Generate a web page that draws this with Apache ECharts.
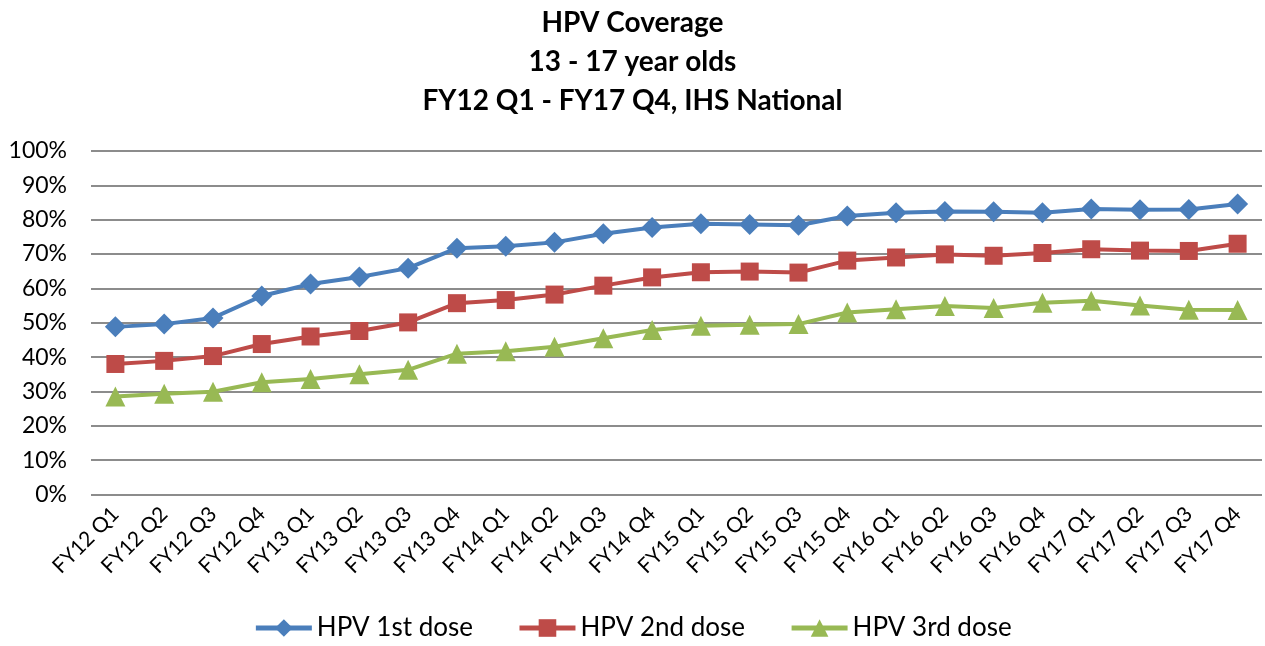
<!DOCTYPE html>
<html>
<head>
<meta charset="utf-8">
<script src="https://cdn.jsdelivr.net/npm/echarts@6/dist/echarts.min.js"></script>
<style>
  html, body { margin: 0; padding: 0; background: #fff; }
  #main { width: 1265px; height: 646px; }
</style>
</head>
<body>
<div id="main"></div>
<script>
const quarters = [
  "FY12 Q1", "FY12 Q2", "FY12 Q3", "FY12 Q4",
  "FY13 Q1", "FY13 Q2", "FY13 Q3", "FY13 Q4",
  "FY14 Q1", "FY14 Q2", "FY14 Q3", "FY14 Q4",
  "FY15 Q1", "FY15 Q2", "FY15 Q3", "FY15 Q4",
  "FY16 Q1", "FY16 Q2", "FY16 Q3", "FY16 Q4",
  "FY17 Q1", "FY17 Q2", "FY17 Q3", "FY17 Q4"
];

// coverage in percent
const dose1 = [48.8, 49.6, 51.4, 57.8, 61.3, 63.3, 65.9, 71.7,
  72.3, 73.4, 75.9, 77.7, 78.8, 78.6, 78.4, 81.1,
  82.0, 82.4, 82.3, 82.0, 83.1, 82.9, 83.0, 84.6];
const dose2 = [38.0, 38.9, 40.3, 43.8, 46.0, 47.6, 50.1, 55.7,
  56.6, 58.2, 60.8, 63.2, 64.7, 64.9, 64.6, 68.1,
  69.0, 69.9, 69.5, 70.3, 71.4, 71.0, 70.9, 73.0];
const dose3 = [28.5, 29.3, 29.9, 32.7, 33.6, 35.0, 36.3, 41.0,
  41.7, 43.0, 45.5, 47.9, 49.1, 49.4, 49.6, 53.0,
  53.9, 54.9, 54.3, 55.8, 56.4, 55.0, 53.8, 53.7];

const seriesNames = ["HPV 1st dose", "HPV 2nd dose", "HPV 3rd dose"];
const titleLines = ["HPV Coverage", "13 - 17 year olds", "FY12 Q1 - FY17 Q4, IHS National"];

const font = "Lato, 'Open Sans', sans-serif";

const chart = echarts.init(document.getElementById("main"));

function lineSeries(name, data, color, symbol, size) {
  return {
    name: name,
    type: "line",
    data: data,
    symbol: symbol,
    symbolSize: size,
    showAllSymbol: true,
    lineStyle: { color: color, width: 4 },
    itemStyle: { color: color },
    animation: false
  };
}

chart.setOption({
  backgroundColor: "#fff",
  title: {
    text: titleLines.join("\n"),
    left: "center",
    top: -2,
    textStyle: {
      fontFamily: font,
      fontWeight: "bold",
      fontSize: 28,
      lineHeight: 39,
      color: "#000"
    }
  },
  legend: {
    bottom: 0,
    left: "center",
    itemWidth: 56,
    itemHeight: 22,
    itemGap: 44,
    itemStyle: { borderWidth: 0 },
    lineStyle: { width: 5 },
    textStyle: { fontFamily: font, fontSize: 26, color: "#000" },
    data: seriesNames
  },
  grid: { left: 91, right: 3, top: 151, bottom: 151.5 },
  xAxis: {
    type: "category",
    data: quarters,
    boundaryGap: true,
    axisLine: { show: false },
    axisTick: { show: false },
    axisLabel: {
      interval: 0,
      rotate: 45,
      margin: 16,
      fontFamily: font,
      fontSize: 21,
      color: "#000"
    }
  },
  yAxis: {
    type: "value",
    min: 0,
    max: 100,
    interval: 10,
    axisLine: { show: false },
    axisTick: { show: false },
    axisLabel: {
      formatter: "{value}%",
      margin: 24,
      fontFamily: font,
      fontSize: 23,
      color: "#000"
    },
    splitLine: { lineStyle: { color: "#8c8c8c", width: 2 } }
  },
  series: [
    lineSeries(seriesNames[0], dose1, "#4a7ebb", "diamond", 21),
    lineSeries(seriesNames[1], dose2, "#be4b48", "rect", 18),
    lineSeries(seriesNames[2], dose3, "#98b954", "triangle", 20)
  ]
});
</script>
</body>
</html>
